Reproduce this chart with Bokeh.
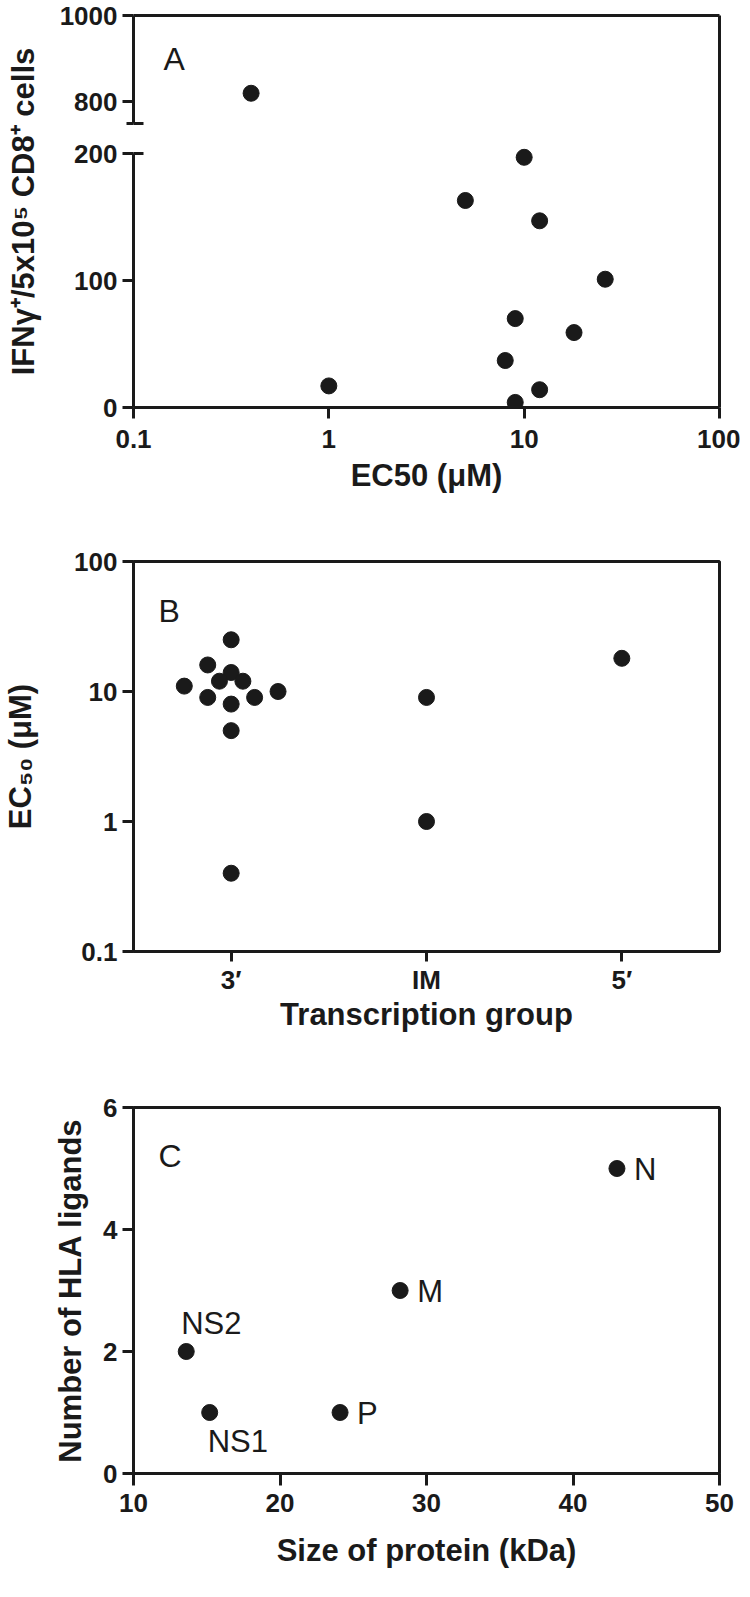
from bokeh.plotting import figure
from bokeh.models import (Range1d, LinearAxis, LogAxis, FixedTicker, Label,
                          LabelSet, ColumnDataSource)
from bokeh.core.properties import value
from bokeh.layouts import column
from bokeh.embed import file_html
from bokeh.resources import INLINE

# ---------------- data ----------------
# Panel A : IFN-gamma response vs EC50
a_ec50 = [0.4, 1, 10, 5, 12, 26, 9, 18, 8, 12, 9]
a_ifng = [820, 17, 197, 163, 147, 101, 70, 59, 37, 14, 4]
a_xticks = [0.1, 1, 10, 100]
a_xtick_labels = ["0.1", "1", "10", "100"]
a_lower_ticks = [0, 100, 200]
a_upper_ticks = [800, 1000]
a_break = (200, 750)      # lower segment ends at 200, upper segment starts at 750
a_top = 1000

# Panel B : EC50 by transcription group
b_groups = ["3′", "IM", "5′"]
b_group = ["3′"] * 12 + ["IM"] * 2 + ["5′"]
b_ec50 = [25, 16, 14, 12, 12, 11, 10, 9, 9, 8, 5, 0.4, 9, 1, 18]
b_spread = [0, -0.12, 0, -0.06, 0.06, -0.24, 0.24, -0.12, 0.12, 0, 0, 0, 0, 0, 0]
b_yticks = [0.1, 1, 10, 100]
b_ytick_labels = ["0.1", "1", "10", "100"]

# Panel C : number of HLA ligands vs protein size
c_protein = ["NS2", "NS1", "P", "M", "N"]
c_size = [13.6, 15.2, 24.1, 28.2, 43.0]
c_ligands = [2, 1, 1, 3, 5]
c_xticks = [10, 20, 30, 40, 50]
c_yticks = [0, 2, 4, 6]

# ---------------- style ----------------
INK = "#1a1a1a"
FONT = "Liberation Sans"
W = 740
DOT = 16
LEFT, RIGHT = 129, 21


def style_axis(ax, tick_out=11, label_standoff=5, title_standoff=10):
    ax.axis_line_width = 3
    ax.axis_line_color = INK
    ax.major_tick_line_width = 3
    ax.major_tick_line_color = INK
    ax.major_tick_out = tick_out
    ax.major_tick_in = 0
    ax.minor_tick_line_color = None
    ax.major_label_text_font = FONT
    ax.major_label_text_font_style = "bold"
    ax.major_label_text_font_size = "26px"
    ax.major_label_text_color = INK
    ax.major_label_standoff = label_standoff
    ax.axis_label_text_font = FONT
    ax.axis_label_text_font_style = "bold"
    ax.axis_label_text_font_size = "31px"
    ax.axis_label_text_color = INK
    ax.axis_label_standoff = title_standoff


def line_only_axis(ax, minor=None, tick_in=0):
    ax.ticker = FixedTicker(ticks=[], minor_ticks=minor or [])
    ax.axis_line_width = 3
    ax.axis_line_color = INK
    ax.major_tick_line_color = None
    ax.major_tick_out = 0
    ax.major_tick_in = 0
    ax.minor_tick_line_color = INK if minor else None
    ax.minor_tick_line_width = 3
    ax.minor_tick_out = 0
    ax.minor_tick_in = tick_in
    ax.major_label_standoff = 0
    ax.major_label_text_font_size = "0px"
    return ax


def panel_letter(p, x, y, text, dx, dy):
    p.add_layout(Label(x=x, y=y, x_offset=dx, y_offset=-dy, text=text,
                       text_font=FONT, text_font_size="32px", text_color=INK,
                       text_baseline="alphabetic"))


def base_fig(**kw):
    p = figure(width=W, output_backend="svg", toolbar_location=None,
               background_fill_color="white", border_fill_color="white",
               min_border_left=LEFT, min_border_right=RIGHT, **kw)
    p.grid.visible = False
    return p


# ---------------- Panel A (broken y axis) ----------------
A_FRAME_H, A_LOWER_PX, A_GAP_PX = 392, 254, 30
A_UPPER_PX = A_FRAME_H - A_LOWER_PX - A_GAP_PX
lower_top = a_break[0] * A_FRAME_H / A_LOWER_PX
upper_bottom = a_top - (a_top - a_break[1]) * A_FRAME_H / A_UPPER_PX


def upper_to_lower(v):
    """position of an upper-segment value expressed in lower-segment units"""
    return lower_top - (a_top - v) * (A_UPPER_PX / (a_top - a_break[1])) * (lower_top / A_FRAME_H)


pA = base_fig(height=512, x_axis_type="log", x_range=Range1d(a_xticks[0], a_xticks[-1]),
              y_range=Range1d(0, lower_top), y_axis_location=None,
              min_border_top=15, min_border_bottom=105)
pA.outline_line_color = None
pA.extra_y_ranges = {"upper": Range1d(upper_bottom, a_top)}

xa = pA.xaxis[0]
xa.ticker = FixedTicker(ticks=a_xticks)
xa.major_label_overrides = dict(zip(a_xticks, a_xtick_labels))
xa.axis_label = "EC50 (μM)"
style_axis(xa, tick_out=11, label_standoff=11, title_standoff=7)

# axis line segments (zero width panels, sit on the frame edge)
ax_line_lo = line_only_axis(LinearAxis(bounds=(0, a_break[0])), minor=[a_break[0]], tick_in=10)
ax_line_up = line_only_axis(LinearAxis(y_range_name="upper", bounds=(a_break[1], a_top)),
                            minor=[a_break[1]], tick_in=10)
pA.add_layout(ax_line_lo, "left")
pA.add_layout(ax_line_up, "left")

# ticks + labels of both segments, with the axis title
up_pos = [upper_to_lower(v) for v in a_upper_ticks]
tick_pos = a_lower_ticks + up_pos
tick_txt = [str(v) for v in a_lower_ticks + a_upper_ticks]
ax_lab = LinearAxis(ticker=FixedTicker(ticks=tick_pos, minor_ticks=[upper_to_lower(a_break[1])]),
                    axis_label="IFNγ⁺/5x10⁵ CD8⁺ cells")
style_axis(ax_lab, tick_out=11, label_standoff=5, title_standoff=16)
ax_lab.major_label_overrides = dict(zip(tick_pos, tick_txt))
ax_lab.axis_line_color = None
ax_lab.minor_tick_line_color = INK
ax_lab.minor_tick_line_width = 3
ax_lab.minor_tick_out = 7
ax_lab.minor_tick_in = 0
pA.add_layout(ax_lab, "left")

pA.add_layout(line_only_axis(LogAxis()), "above")
pA.add_layout(line_only_axis(LinearAxis()), "right")

lo = [(x, y) for x, y in zip(a_ec50, a_ifng) if y <= a_break[0]]
hi = [(x, y) for x, y in zip(a_ec50, a_ifng) if y > a_break[0]]
pA.scatter(x=[v[0] for v in lo], y=[v[1] for v in lo], size=DOT, color=INK, marker="circle")
pA.scatter(x=[v[0] for v in hi], y=[v[1] for v in hi], size=DOT, color=INK, marker="circle",
           y_range_name="upper")
panel_letter(pA, a_xticks[0], lower_top, "A", 30, 43)

# ---------------- Panel B ----------------
pB = base_fig(height=523, x_range=Range1d(0, len(b_groups)), y_axis_type="log",
              y_range=Range1d(b_yticks[0], b_yticks[-1]),
              min_border_top=49, min_border_bottom=84)
pB.outline_line_color = INK
pB.outline_line_width = 3

b_pos = [i + 0.5 for i in range(len(b_groups))]
xb = pB.xaxis[0]
xb.ticker = FixedTicker(ticks=b_pos)
xb.major_label_overrides = dict(zip(b_pos, b_groups))
xb.axis_label = "Transcription group"
style_axis(xb, tick_out=10, label_standoff=3, title_standoff=-1)

yb = pB.yaxis[0]
yb.ticker = FixedTicker(ticks=b_yticks)
yb.major_label_overrides = dict(zip(b_yticks, b_ytick_labels))
yb.axis_label = "EC₅₀ (μM)"
style_axis(yb, tick_out=11, label_standoff=5, title_standoff=33)

b_x = [b_groups.index(g) + 0.5 + s for g, s in zip(b_group, b_spread)]
pB.scatter(x=b_x, y=b_ec50, size=DOT, color=INK, marker="circle")
panel_letter(pB, 0, b_yticks[-1], "B", 25, 49)

# ---------------- Panel C ----------------
pC = base_fig(height=545, x_range=Range1d(c_xticks[0], c_xticks[-1]),
              y_range=Range1d(c_yticks[0], c_yticks[-1]),
              min_border_top=72, min_border_bottom=107)
pC.outline_line_color = INK
pC.outline_line_width = 3

xc = pC.xaxis[0]
xc.ticker = FixedTicker(ticks=c_xticks)
xc.axis_label = "Size of protein (kDa)"
style_axis(xc, tick_out=12, label_standoff=8, title_standoff=18)
yc = pC.yaxis[0]
yc.ticker = FixedTicker(ticks=c_yticks)
yc.axis_label = "Number of HLA ligands"
style_axis(yc, tick_out=11, label_standoff=5, title_standoff=12)

pC.scatter(x=c_size, y=c_ligands, size=DOT, color=INK, marker="circle")


def label_group(names, dx, dy):
    idx = [i for i, n in enumerate(c_protein) if n in names]
    src = ColumnDataSource(dict(x=[c_size[i] for i in idx], y=[c_ligands[i] for i in idx],
                                t=[c_protein[i] for i in idx]))
    pC.add_layout(LabelSet(x="x", y="y", text="t", source=src, x_offset=dx, y_offset=dy,
                           text_font=value(FONT), text_font_size=value("31px"),
                           text_color=INK, text_baseline="alphabetic"))


label_group({"NS2"}, -5, 18)
label_group({"NS1"}, -2, -39)
label_group({"P", "M", "N"}, 17, -11)
panel_letter(pC, c_xticks[0], c_yticks[-1], "C", 25, 48)

layout = column(pA, pB, pC, spacing=0)
open("out.html", "w").write(file_html(layout, INLINE))
